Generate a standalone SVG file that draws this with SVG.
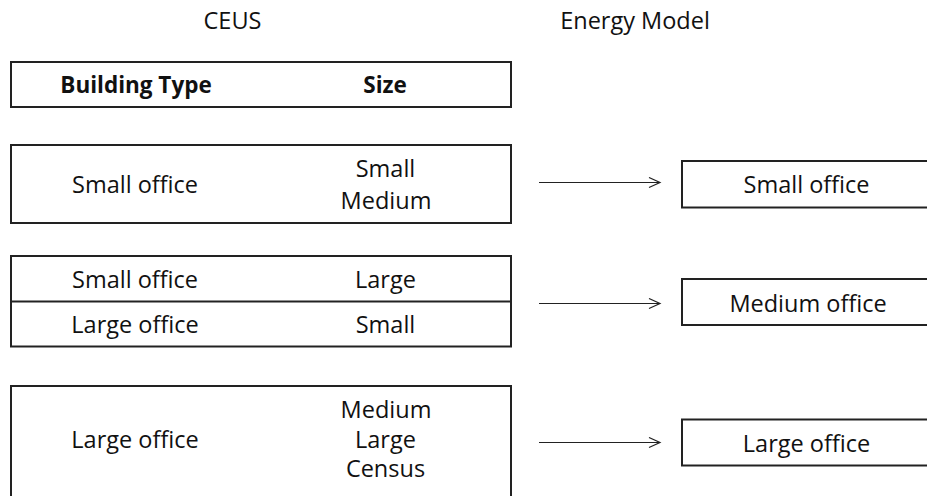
<svg xmlns="http://www.w3.org/2000/svg" width="927" height="496" viewBox="0 0 927 496">
<style>
.box{fill:#fff;stroke:#222;stroke-width:2}
.t{font-family:"Open Sans","Liberation Sans",sans-serif;font-size:23.5px;fill:#111;text-anchor:middle}
.b{font-weight:bold;font-size:22.5px}
.c{stroke:#222;stroke-width:1.2;fill:none}
</style>
<defs>
<marker id="ah" markerWidth="14" markerHeight="12" refX="12" refY="6" orient="auto" markerUnits="userSpaceOnUse">
<path d="M1,1 L12,6 L1,11" fill="none" stroke="#222" stroke-width="1.2"/>
</marker>
</defs>
<rect width="927" height="496" fill="#fff"/>
<g id="titles">
<text class="t" x="232.5" y="29">CEUS</text>
<text class="t" x="635" y="29">Energy Model</text>
</g>
<g id="header">
<rect class="box" x="11" y="62" width="500" height="45"/>
<text class="t b" x="136" y="93">Building Type</text>
<text class="t b" x="385" y="93">Size</text>
</g>
<g id="row1">
<rect class="box" x="11" y="145" width="500" height="78"/>
<text class="t" x="135" y="193">Small office</text>
<text class="t" x="385.5" y="177">Small</text>
<text class="t" x="386" y="209">Medium</text>
</g>
<g id="row2">
<rect class="box" x="11" y="256" width="500" height="90.5"/>
<line class="box" x1="11" y1="301.5" x2="511" y2="301.5"/>
<text class="t" x="135" y="288">Small office</text>
<text class="t" x="385.5" y="288">Large</text>
<text class="t" x="135" y="333">Large office</text>
<text class="t" x="385.5" y="333">Small</text>
</g>
<g id="row3">
<rect class="box" x="11" y="386" width="500" height="120"/>
<text class="t" x="135" y="448">Large office</text>
<text class="t" x="386" y="418">Medium</text>
<text class="t" x="385.5" y="448">Large</text>
<text class="t" x="385.5" y="477">Census</text>
</g>
<g id="model-small">
<rect class="box" x="682" y="161" width="260" height="46.5"/>
<text class="t" x="806.5" y="193">Small office</text>
</g>
<g id="model-medium">
<rect class="box" x="682" y="279" width="260" height="46"/>
<text class="t" x="808" y="311.5">Medium office</text>
</g>
<g id="model-large">
<rect class="box" x="682" y="419.5" width="260" height="46"/>
<text class="t" x="806.5" y="451.5">Large office</text>
</g>
<g id="connectors">
<line class="c" x1="539" y1="182.5" x2="660" y2="182.5" marker-end="url(#ah)"/>
<line class="c" x1="539" y1="303.5" x2="660" y2="303.5" marker-end="url(#ah)"/>
<line class="c" x1="539" y1="442.5" x2="660" y2="442.5" marker-end="url(#ah)"/>
</g>
</svg>
